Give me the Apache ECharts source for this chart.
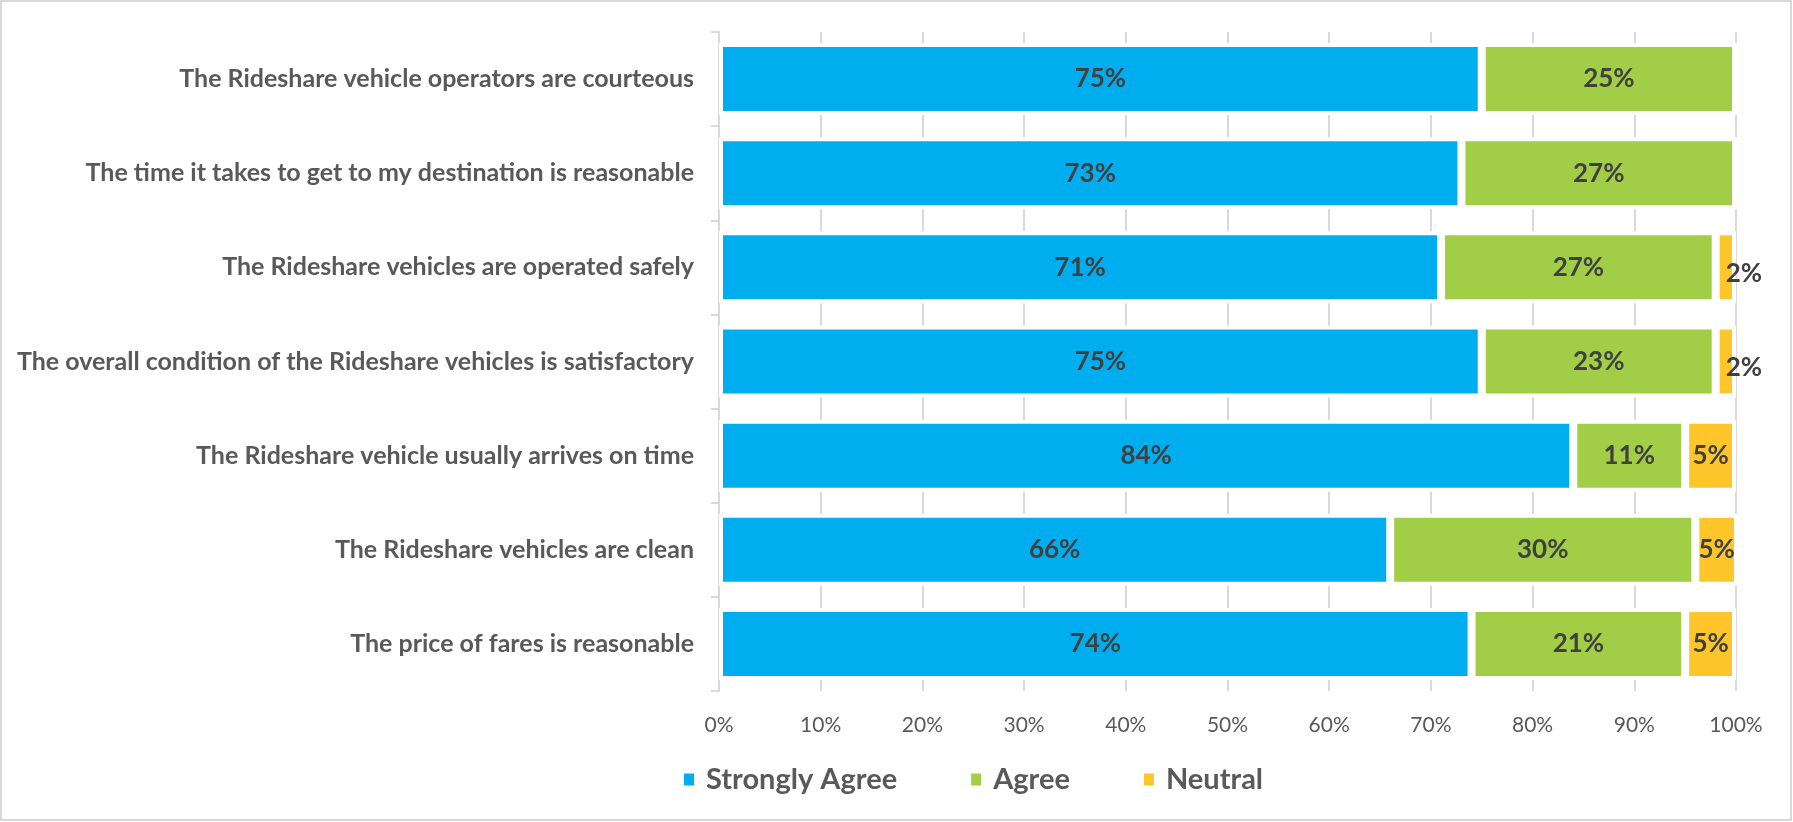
<!DOCTYPE html>
<html>
<head>
<meta charset="utf-8">
<script src="https://cdn.jsdelivr.net/npm/echarts@6/dist/echarts.min.js"></script>
<style>
  html, body { margin: 0; padding: 0; background: #ffffff; }
  #chart { width: 1793px; height: 822px; }
</style>
</head>
<body>
<div id="chart"></div>
<script>
// Survey statements, listed top to bottom
const statements = [
  'The Rideshare vehicle operators are courteous',
  'The time it takes to get to my destination is reasonable',
  'The Rideshare vehicles are operated safely',
  'The overall condition of the Rideshare vehicles is satisfactory',
  'The Rideshare vehicle usually arrives on time',
  'The Rideshare vehicles are clean',
  'The price of fares is reasonable'
];

// Share of respondents (%) per answer
const stronglyAgree = [75, 73, 71, 75, 84, 66, 74];
const agree         = [25, 27, 27, 23, 11, 30, 21];
const neutral       = [0, 0, 2, 2, 5, 5, 5];

const xTicks = [0, 10, 20, 30, 40, 50, 60, 70, 80, 90, 100];

const FONT = 'Lato, "Open Sans", sans-serif';
const colors = { strong: '#00AEEF', agree: '#A1CD47', neutral: '#FFC62B' };

const valueLabel = {
  show: true,
  position: 'inside',
  fontFamily: FONT,
  fontWeight: 'bold',
  fontSize: 26,
  color: '#404040',
  formatter: p => (p.value > 0 ? p.value + '%' : '')
};

function seriesDef(name, values, color) {
  return {
    name: name,
    type: 'bar',
    stack: 'total',
    barWidth: 72,
    data: values.map(v => {
      const item = { value: v };
      // very thin segments: the text runs past the bar end
      if (v > 0 && v < 4) {
        item.label = { offset: [18, 6] };
      }
      return item;
    }),
    itemStyle: { color: color, borderColor: '#ffffff', borderWidth: 4 },
    label: valueLabel,
    emphasis: { disabled: true }
  };
}

const chart = echarts.init(document.getElementById('chart'), null, { renderer: 'canvas' });

chart.setOption({
  animation: false,
  backgroundColor: '#ffffff',
  graphic: [{
    type: 'rect',
    shape: { x: 1, y: 1, width: 1790, height: 819 },
    style: { fill: 'none', stroke: '#d9d9d9', lineWidth: 2 },
    silent: true
  }],
  grid: { left: 719, right: 57, top: 32, bottom: 131, containLabel: false },
  legend: {
    left: 677,
    top: 760,
    itemWidth: 12,
    itemHeight: 14,
    itemGap: 72,
    icon: 'rect',
    textStyle: {
      fontFamily: FONT,
      fontWeight: 'bold',
      fontSize: 29,
      color: '#595959',
      padding: [0, 0, 0, 6]
    },
    data: ['Strongly Agree', 'Agree', 'Neutral']
  },
  xAxis: {
    type: 'value',
    min: xTicks[0],
    max: xTicks[xTicks.length - 1],
    interval: xTicks[1] - xTicks[0],
    axisLine: { show: false },
    axisTick: { show: false },
    splitLine: { show: true, lineStyle: { color: '#d9d9d9', width: 2 } },
    axisLabel: {
      margin: 24,
      fontFamily: FONT,
      fontSize: 21,
      color: '#595959',
      formatter: v => v + '%'
    }
  },
  yAxis: {
    type: 'category',
    inverse: true,
    data: statements,
    axisLine: { show: true, lineStyle: { color: '#d9d9d9', width: 2 } },
    axisTick: { show: true, length: 8, lineStyle: { color: '#d9d9d9', width: 2 } },
    axisLabel: {
      margin: 25,
      fontFamily: FONT,
      fontWeight: 'bold',
      fontSize: 25,
      color: '#595959'
    }
  },
  series: [
    seriesDef('Strongly Agree', stronglyAgree, colors.strong),
    seriesDef('Agree', agree, colors.agree),
    seriesDef('Neutral', neutral, colors.neutral)
  ]
});
</script>
</body>
</html>
